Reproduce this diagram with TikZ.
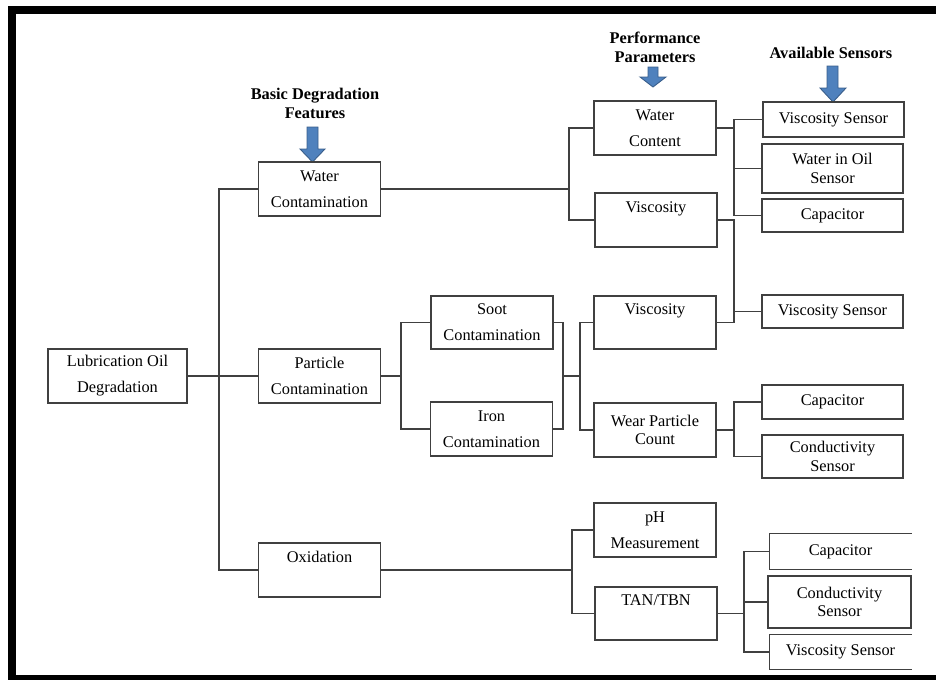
\documentclass[tikz,border=0pt]{standalone}
\usepackage{fontspec}
\setmainfont{Liberation Serif}

\definecolor{arrowblue}{HTML}{4F81BD}
\definecolor{arrowedge}{HTML}{385D8A}

\begin{document}
\begin{tikzpicture}[
    x=0.02cm, y=-0.02cm,
    every node/.style={font=\fontsize{9.3}{14.8}\selectfont},
    box/.style={
        draw=black!75,
        line width=0.7pt,
        align=center,
        inner sep=0pt,
        minimum width=2.44cm,
        minimum height=1.08cm
    },
    sensor/.style={box, minimum width=2.82cm},
    opensensor/.style={sensor, draw=none},
    tight/.style={font=\fontsize{9.3}{10.5}\selectfont},
    heading/.style={
        font=\bfseries\fontsize{9.3}{10.8}\selectfont,
        align=center
    },
    bluearrow/.style={
        fill=arrowblue,
        draw=arrowedge,
        line width=0.5pt
    },
    link/.style={
        draw=black!75,
        line width=0.6pt
    }
]

\useasboundingbox (0,0) rectangle (936,680);

% frame
\fill[black] (8,6) rectangle (936,14);
\fill[black] (8,6) rectangle (16,680);
\fill[black] (8,675) rectangle (936,680);

% headings and arrows
\node[heading] (basic) at (315,103.5) {Basic Degradation\\Features};
\node[heading] (perf) at (655,47.5) {Performance\\Parameters};
\node[heading] (avail) at (831,53) {Available Sensors};

\filldraw[bluearrow] (307,127) -- (318,127) -- (318,149) -- (325,149)
    -- (312.5,162) -- (300,149) -- (307,149) -- cycle;
\filldraw[bluearrow] (648,67) -- (658,67) -- (658,77) -- (666,77)
    -- (653,87) -- (640,77) -- (648,77) -- cycle;
\filldraw[bluearrow] (827,66) -- (838,66) -- (838,88) -- (846,88)
    -- (833,102) -- (820,88) -- (827,88) -- cycle;

% degradation features
\node[box, minimum width=2.78cm] (lub) at (117.5,376) {Lubrication Oil\\Degradation};
\node[box] (wc) at (319.5,189) {Water\\Contamination};
\node[box] (pc) at (319.5,376) {Particle\\Contamination};
\node[box] (ox) at (319.5,570) {Oxidation\\\mbox{}};

\node[box, minimum height=1.06cm] (soot) at (492,322.5) {Soot\\Contamination};
\node[box] (iron) at (491.5,429) {Iron\\Contamination};

% performance parameters
\node[box] (wcont) at (655,128) {Water\\Content};
\node[box] (visc1) at (656,220) {Viscosity\\\mbox{}};
\node[box, minimum height=1.06cm] (visc2) at (655,322.5) {Viscosity\\\mbox{}};
\node[box, tight] (wear) at (655,430) {Wear Particle\\Count};
\node[box] (ph) at (655,530) {pH\\Measurement};
\node[box, minimum height=1.06cm] (tan) at (656,613.5) {TAN/TBN\\\mbox{}};

% sensors
\node[sensor, minimum height=0.70cm] (vs1) at (833.5,119.5) {Viscosity Sensor};
\node[sensor, tight, minimum height=0.98cm] (wio) at (832.5,168.5) {Water in Oil\\Sensor};
\node[sensor, minimum height=0.66cm] (cap1) at (832.5,215.5) {Capacitor};
\node[sensor, minimum height=0.66cm] (vs2) at (832.5,311.5) {Viscosity Sensor};
\node[sensor, minimum height=0.68cm] (cap2) at (832.5,402) {Capacitor};
\node[sensor, tight, minimum height=0.86cm] (cond1) at (832.5,456.5) {Conductivity\\Sensor};
\node[opensensor, minimum height=0.70cm] (cap3) at (840.5,551.5) {Capacitor};
\node[sensor, tight, minimum width=2.86cm, minimum height=1.04cm] (cond2) at (839.5,602) {Conductivity\\Sensor};
\node[opensensor, minimum height=0.68cm] (vs3) at (840.5,652) {Viscosity Sensor};

\draw[link, line width=0.7pt] (cap3.north east) -- (cap3.north west) -- (cap3.south west) -- (cap3.south east);
\draw[link, line width=0.7pt] (vs3.north east) -- (vs3.north west) -- (vs3.south west) -- (vs3.south east);

% branch points
\coordinate (b1) at (219,376);
\coordinate (b2) at (569,189);
\coordinate (b3) at (734,128);
\coordinate (b4) at (734,311.5);
\coordinate (b5) at (401,376);
\coordinate (b6) at (563,376);
\coordinate (b7) at (580,376);
\coordinate (b8) at (734,430);
\coordinate (b9) at (572,570);
\coordinate (b10) at (744,613.5);

% connectors
\draw[link] (lub) -- (pc);
\draw[link] (wc.west) -| (b1) |- (ox.west);

\draw[link] (wc.east) -- (b2);
\draw[link] (wcont.west) -| (b2) |- (visc1.west);
\draw[link] (wcont.east) -- (b3);
\draw[link] (vs1.west) -| (b3) |- (cap1.west);
\draw[link] (b3 |- wio.west) -- (wio.west);
\draw[link] (visc1.east) -| (b4) |- (visc2.east);
\draw[link] (b4) -- (vs2.west);

\draw[link] (pc.east) -- (b5);
\draw[link] (soot.west) -| (b5) |- (iron.west);
\draw[link] (soot.east) -| (b6) |- (iron.east);
\draw[link] (b6) -- (b7);
\draw[link] (visc2.west) -| (b7) |- (wear.west);
\draw[link] (wear.east) -- (b8);
\draw[link] (cap2.west) -| (b8) |- (cond1.west);

\draw[link] (ox.east) -- (b9);
\draw[link] (ph.west) -| (b9) |- (tan.west);
\draw[link] (tan.east) -- (b10);
\draw[link] (cap3.west) -| (b10) |- (vs3.west);
\draw[link] (b10 |- cond2.west) -- (cond2.west);

\end{tikzpicture}
\end{document}
